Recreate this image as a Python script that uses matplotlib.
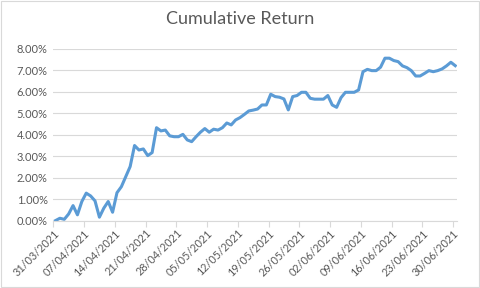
import pandas as pd
import matplotlib.pyplot as plt
import matplotlib.dates as mdates
from matplotlib.ticker import FuncFormatter
from matplotlib.patches import Rectangle

plt.rcParams['font.family'] = ['Lato', 'DejaVu Sans']

# daily cumulative return in percent, 31/03/2021 .. 30/06/2021
start_date = '2021-03-31'
cum_return = [
    0.00, 0.11, 0.06, 0.31, 0.70, 0.27, 0.89, 1.28, 1.15, 0.92,
    0.16, 0.58, 0.89, 0.39, 1.30, 1.58, 2.05, 2.52, 3.50, 3.29,
    3.34, 3.03, 3.17, 4.33, 4.18, 4.22, 3.95, 3.91, 3.91, 4.02,
    3.76, 3.68, 3.91, 4.12, 4.29, 4.12, 4.26, 4.22, 4.33, 4.55,
    4.46, 4.69, 4.80, 4.95, 5.11, 5.15, 5.20, 5.39, 5.39, 5.89,
    5.78, 5.75, 5.67, 5.16, 5.78, 5.83, 5.98, 5.98, 5.70, 5.66,
    5.66, 5.66, 5.83, 5.39, 5.28, 5.73, 5.98, 5.98, 5.98, 6.09,
    6.94, 7.05, 6.99, 6.99, 7.15, 7.57, 7.57, 7.46, 7.41, 7.21,
    7.13, 6.99, 6.74, 6.74, 6.86, 6.99, 6.94, 6.99, 7.07, 7.21,
    7.38, 7.22,
]
y_ticks = [0, 1, 2, 3, 4, 5, 6, 7, 8]

dates = pd.date_range(start_date, periods=len(cum_return), freq='D')
tick_dates = pd.date_range(start_date, '2021-06-30', freq='7D')

fig = plt.figure(figsize=(4.8, 2.88), dpi=100)
ax = fig.add_axes([0.111, 0.234, 0.842, 0.596])

# points sit in the middle of each day slot
ax.plot(dates + pd.Timedelta(hours=12), cum_return, color='#5B9BD5', lw=2.2,
        solid_joinstyle='round')

ax.set_xlim(dates[0], dates[-1] + pd.Timedelta(days=1))
ax.set_ylim(0, 8)
ax.set_yticks(y_ticks)
ax.yaxis.set_major_formatter(FuncFormatter(lambda v, p: '%.2f%%' % v))
ax.set_xticks(tick_dates)
ax.xaxis.set_major_formatter(mdates.DateFormatter('%d/%m/%Y'))

ax.grid(axis='y', color='#D9D9D9', lw=0.8)
ax.set_axisbelow(True)
for s in ['top', 'right', 'left']:
    ax.spines[s].set_visible(False)
ax.spines['bottom'].set_color('#D9D9D9')
ax.spines['bottom'].set_linewidth(0.8)

ax.tick_params(axis='y', length=0, labelsize=8, labelcolor='#595959', pad=4)
ax.tick_params(axis='x', length=4, width=0.8, color='#D9D9D9',
               labelsize=7.8, labelcolor='#595959', pad=1)
for lab in ax.get_xticklabels():
    lab.set_rotation(45)
    lab.set_ha('right')
    lab.set_va('top')
    lab.set_rotation_mode('anchor')

fig.text(0.5, 0.935, 'Cumulative Return', ha='center', va='center',
         fontsize=13, color='#595959')

fig.patches.append(Rectangle((0.002, 0.003), 0.996, 0.994, transform=fig.transFigure,
                             fill=False, edgecolor='#D9D9D9', lw=0.8))

plt.savefig('out.png', dpi=100)
